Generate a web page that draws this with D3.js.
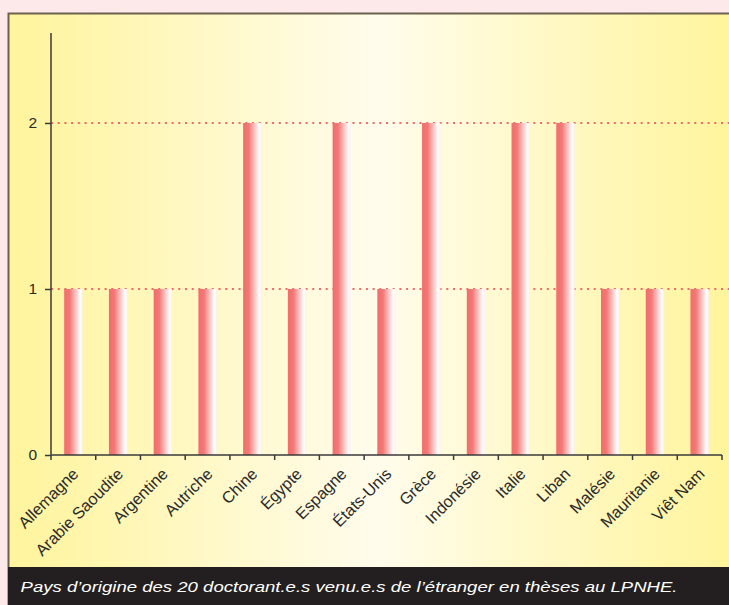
<!DOCTYPE html>
<html lang="fr">
<head>
<meta charset="utf-8">
<script src="https://cdn.jsdelivr.net/npm/d3@7"></script>
<style>
  html, body { margin: 0; padding: 0; background: #fde9e9; }
  svg { display: block; }
</style>
</head>
<body>
<svg id="chart" width="729" height="605"></svg>
<script>
// Pays d'origine des doctorant.e.s étranger.e.s
const countries = ["Allemagne", "Arabie Saoudite", "Argentine", "Autriche", "Chine", "Égypte", "Espagne", "États-Unis", "Grèce", "Indonésie", "Italie", "Liban", "Malésie", "Mauritanie", "Viêt Nam"];
const counts = [1, 1, 1, 1, 2, 1, 2, 1, 2, 1, 2, 2, 1, 1, 1];
const yTicks = [0, 1, 2];
const caption = "Pays d’origine des 20 doctorant.e.s venu.e.s de l’étranger en thèses au LPNHE.";

const W = 729, H = 605;
const svg = d3.select("#chart");
const defs = svg.append("defs");

// panel background: yellow at the edges, pale cream in the middle
const bg = defs.append("linearGradient").attr("id", "panelGrad")
  .attr("x1", "0%").attr("x2", "100%").attr("y1", "0%").attr("y2", "0%");
bg.append("stop").attr("offset", "0%").attr("stop-color", "#fff49c");
bg.append("stop").attr("offset", "50%").attr("stop-color", "#fffcec");
bg.append("stop").attr("offset", "100%").attr("stop-color", "#fff498");

// bars: salmon on the left fading to white on the right
const barGrad = defs.append("linearGradient").attr("id", "barGrad")
  .attr("x1", "0%").attr("x2", "100%").attr("y1", "0%").attr("y2", "0%");
barGrad.append("stop").attr("offset", "0%").attr("stop-color", "#f06e6c");
barGrad.append("stop").attr("offset", "30%").attr("stop-color", "#f27876");
barGrad.append("stop").attr("offset", "88%").attr("stop-color", "#ffffff");
barGrad.append("stop").attr("offset", "100%").attr("stop-color", "#fdeeee");

// framed panel
svg.append("rect")
  .attr("x", 8.5).attr("y", 13.5).attr("width", 740).attr("height", 600)
  .attr("fill", "url(#panelGrad)")
  .attr("stroke", "#6a624f").attr("stroke-width", 2);

// caption band
svg.append("rect")
  .attr("x", 8).attr("y", 567).attr("width", W - 8).attr("height", H - 567)
  .attr("fill", "#231f20");
svg.append("text")
  .attr("x", 20.5).attr("y", 592)
  .attr("fill", "#ffffff")
  .attr("font-family", "Liberation Sans, Arial, sans-serif")
  .attr("font-style", "italic")
  .attr("font-size", 15.5)
  .attr("textLength", 657)
  .attr("lengthAdjust", "spacingAndGlyphs")
  .text(caption);

// scales
const x0 = 51, x1 = 722, yBase = 455;
const x = d3.scaleBand().domain(countries).range([x0, x1]).padding(0);
const y = d3.scaleLinear().domain([0, 2.542]).range([yBase, 33]);

const font = "Liberation Sans, Arial, sans-serif";

// dotted gridlines
svg.append("g").selectAll("line")
  .data(yTicks.filter(d => d > 0))
  .join("line")
  .attr("x1", x0).attr("x2", W)
  .attr("y1", d => y(d)).attr("y2", d => y(d))
  .attr("stroke", "#ee6a68").attr("stroke-width", 2)
  .attr("stroke-dasharray", "2 4.7");

// bars
const barW = x.bandwidth() * 0.41;
svg.append("g").selectAll("rect")
  .data(countries.map((c, i) => ({ c, v: counts[i] })))
  .join("rect")
  .attr("x", d => x(d.c) + (x.bandwidth() - barW) / 2)
  .attr("y", d => y(d.v))
  .attr("width", barW)
  .attr("height", d => y(0) - y(d.v))
  .attr("fill", "url(#barGrad)");

// y axis
const yAxis = svg.append("g").attr("transform", `translate(${x0},0)`)
  .call(d3.axisLeft(y).tickValues(yTicks).tickFormat(d3.format("d")).tickSize(6).tickPadding(8));
yAxis.select(".domain").attr("stroke", "#3a3a3a").attr("stroke-width", 1.5).attr("d", `M0,${y.range()[1]}V${yBase}`);
yAxis.selectAll(".tick line").attr("stroke", "#3a3a3a").attr("stroke-width", 1.5);
yAxis.selectAll(".tick text").attr("fill", "#2b2b2b").attr("font-family", font).attr("font-size", 15.5);

// x axis: line and boundary ticks between categories
const xg = svg.append("g");
xg.append("line").attr("x1", x0).attr("x2", x1).attr("y1", yBase).attr("y2", yBase)
  .attr("stroke", "#3a3a3a").attr("stroke-width", 1.5);
const bounds = countries.map(c => x(c)).concat([x1]);
xg.selectAll("line.tk").data(bounds).join("line").attr("class", "tk")
  .attr("x1", d => d).attr("x2", d => d).attr("y1", yBase).attr("y2", yBase + 5)
  .attr("stroke", "#3a3a3a").attr("stroke-width", 1.5);

// rotated category labels
xg.selectAll("text").data(countries).join("text")
  .attr("transform", d => `translate(${x(d) + x.bandwidth() / 2 + 6},${475}) rotate(-45)`)
  .attr("text-anchor", "end")
  .attr("fill", "#2b2b2b")
  .attr("font-family", font)
  .attr("font-size", 16.3)
  .text(d => d);
</script>
</body>
</html>
